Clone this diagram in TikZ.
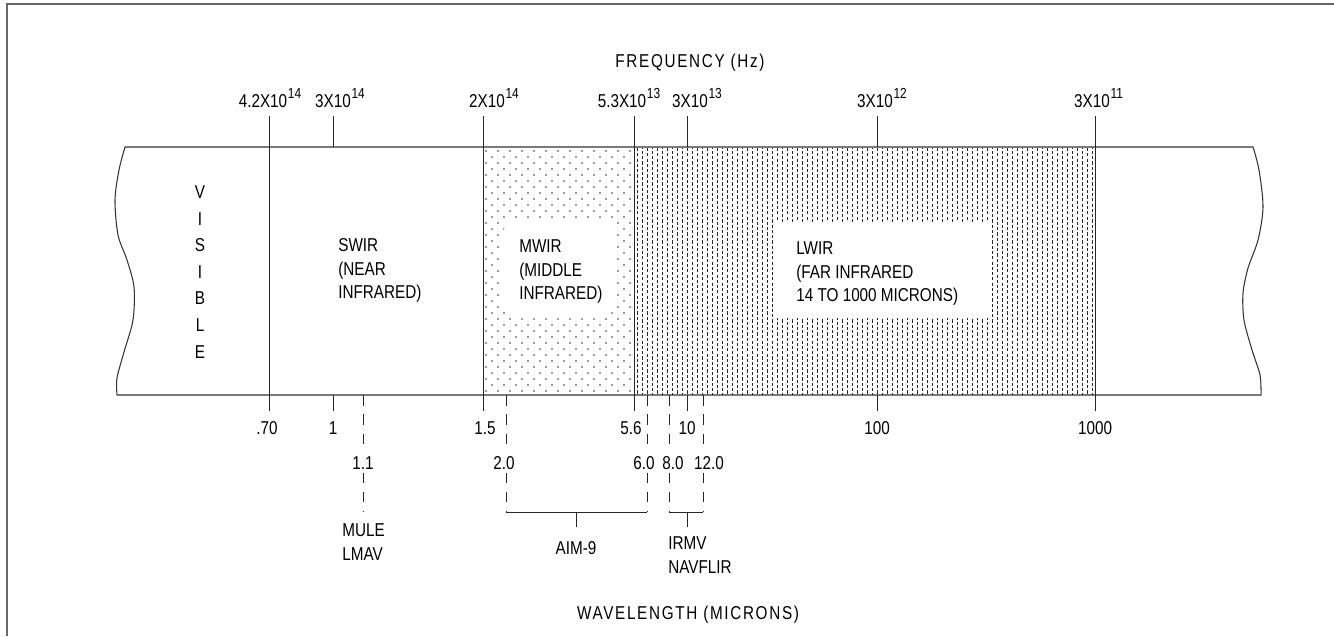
\documentclass[tikz,border=0pt]{standalone}
\usepackage{fontspec}
\setmainfont{Liberation Sans}[FakeStretch=0.82]
\newfontfamily\spacedfont{Liberation Sans}[FakeStretch=0.82,LetterSpace=9]
\newcommand{\lblsize}{\fontsize{10.6}{13.3}\selectfont}
\newcommand{\expo}[1]{\rlap{\kern0.4pt\raisebox{5pt}{\fontsize{8.3}{8.3}\selectfont #1}}}
\begin{document}
\begin{tikzpicture}[x=0.02cm,y=-0.02cm,
  lbl/.style={font=\lblsize, inner sep=0pt},
  lblw/.style={font=\lblsize, inner xsep=0.5pt, inner ysep=2pt, fill=white},
  multi/.style={font=\lblsize, inner sep=0pt, align=left, anchor=north west},
  tickln/.style={line width=0.5pt, black!85},
  dashln/.style={line width=0.5pt, black!85, dash pattern=on 6pt off 5pt},
  bandln/.style={line width=0.6pt, black!80},
  framel/.style={line width=1.1pt, black!60}]
\useasboundingbox (0,0) rectangle (1334,636);
% outer frame (left and top edges)
\draw[framel] (7,636) -- (7,4) -- (1334,4);

% MWIR dot pattern
\begin{scope}
\clip (483,148) rectangle (634,395);
\foreach \r in {0,...,41} {
  \pgfmathsetmacro\yy{151+6*\r}
  \pgfmathsetmacro\off{mod(\r,2)*6}
  \foreach \c in {0,...,12} {
    \fill[black!80] ({486+\off+12*\c},\yy) circle (0.95);
  }
}
\end{scope}
% LWIR dashed pattern
\begin{scope}
\clip (634,148) rectangle (1095,395);
\foreach \i in {0,...,92} {
  \pgfmathsetmacro\xx{637+5*\i}
  \pgfmathsetmacro\ph{mod(\i,2)*1.4}
  \draw[line width=0.4pt, black!85, dash pattern=on 1.8pt off 1.2pt, dash phase=\ph pt] (\xx,148) -- (\xx,395);
}
\end{scope}
% white clearings for labels
\fill[white, rounded corners=10] (503,218) rectangle (616,318);
\fill[white] (777,222) rectangle (990,318);

% band outline
\draw[bandln] (125,147) -- (1253,147)
  plot[smooth] coordinates {(1253,147) (1259,170) (1263,207) (1258,240) (1248,268) (1243,293) (1244,320) (1252,350) (1260,375) (1261,395)}
  -- (117,395)
  plot[smooth] coordinates {(117,395) (117,378) (124,352) (133,320) (134,287) (127,260) (118,235) (115,200) (119,170) (125,147)};

% frequency title and labels
\node[font=\spacedfont\fontsize{10.6}{13.3}\selectfont, inner sep=0pt, anchor=base] (freq) at (690,67.5) {FREQUENCY (Hz)};
\node[lbl, anchor=base] (f1) at (263,107) {4.2X10\expo{14}};
\node[lbl, anchor=base] (f2) at (333,107) {3X10\expo{14}};
\node[lbl, anchor=base] (f3) at (487,107) {2X10\expo{14}};
\node[lbl, anchor=base] (f4) at (622,107) {5.3X10\expo{13}};
\node[lbl, anchor=base] (f5) at (690,107) {3X10\expo{13}};
\node[lbl, anchor=base] (f6) at (875,107) {3X10\expo{12}};
\node[lbl, anchor=base] (f7) at (1092,107) {3X10\expo{11}};

% vertical lines and ticks
\draw[tickln] (269,116) -- (269,411);
\draw[tickln] (333,116) -- (333,147);
\draw[tickln] (333,395) -- (333,411);
\draw[tickln] (483,116) -- (483,411);
\draw[tickln] (634,116) -- (634,411);
\draw[tickln] (687,116) -- (687,147);
\draw[tickln] (687,395) -- (687,411);
\draw[tickln] (877,116) -- (877,147);
\draw[tickln] (877,395) -- (877,411);
\draw[tickln] (1095,116) -- (1095,411);

% dashed sensor lines
\draw[dashln] (363,395) -- (363,512);
\draw[dashln] (506,395) -- (506,512);
\draw[dashln] (647,395) -- (647,512);
\draw[dashln] (669,395) -- (669,512);
\draw[dashln] (703,395) -- (703,512);

% brackets
\draw[tickln] (506,512) -- (647,512);
\draw[tickln] (576,512) -- (576,527);
\draw[tickln] (669,512) -- (703,512);
\draw[tickln] (687,512) -- (687,527);

% wavelength labels
\node[lbl, anchor=base] (w1) at (267,434) {.70};
\node[lbl, anchor=base] (w2) at (333,434) {1};
\node[lbl, anchor=base] (w3) at (485,434) {1.5};
\node[lbl, anchor=base] (w4) at (631,434) {5.6};
\node[lbl, anchor=base] (w5) at (687,434) {10};
\node[lbl, anchor=base] (w6) at (877,434) {100};
\node[lbl, anchor=base] (w7) at (1095,434) {1000};
\node[lblw, anchor=base] (d1) at (363,469.5) {1.1};
\node[lblw, anchor=base] (d2) at (504,469.5) {2.0};
\node[lblw, anchor=base] (d3) at (644,469.5) {6.0};
\node[lblw, anchor=base] (d4) at (673,469.5) {8.0};
\node[lblw, anchor=base] (d5) at (709,469.5) {12.0};

% sensor names
\node[multi] (mule) at (342,523.5) {MULE\\LMAV};
\node[lbl, anchor=base] (aim) at (576,554.5) {AIM-9};
\node[multi] (irmv) at (668,536.5) {IRMV\\NAVFLIR};

% band labels
\node[font=\fontsize{10.6}{15.1}\selectfont, inner sep=0pt, align=center] (vis) at (200,272) {V\\I\\S\\I\\B\\L\\E};
\node[multi] (swir) at (338,238.5) {SWIR\\(NEAR\\INFRARED)};
\node[multi] (mwir) at (519,239.5) {MWIR\\(MIDDLE\\INFRARED)};
\node[multi] (lwir) at (796,241.5) {LWIR\\(FAR INFRARED\\14 TO 1000 MICRONS)};

\node[font=\spacedfont\fontsize{10.6}{13.3}\selectfont, inner sep=0pt, anchor=base] (wave) at (688,619.5) {WAVELENGTH (MICRONS)};
\end{tikzpicture}
\end{document}
